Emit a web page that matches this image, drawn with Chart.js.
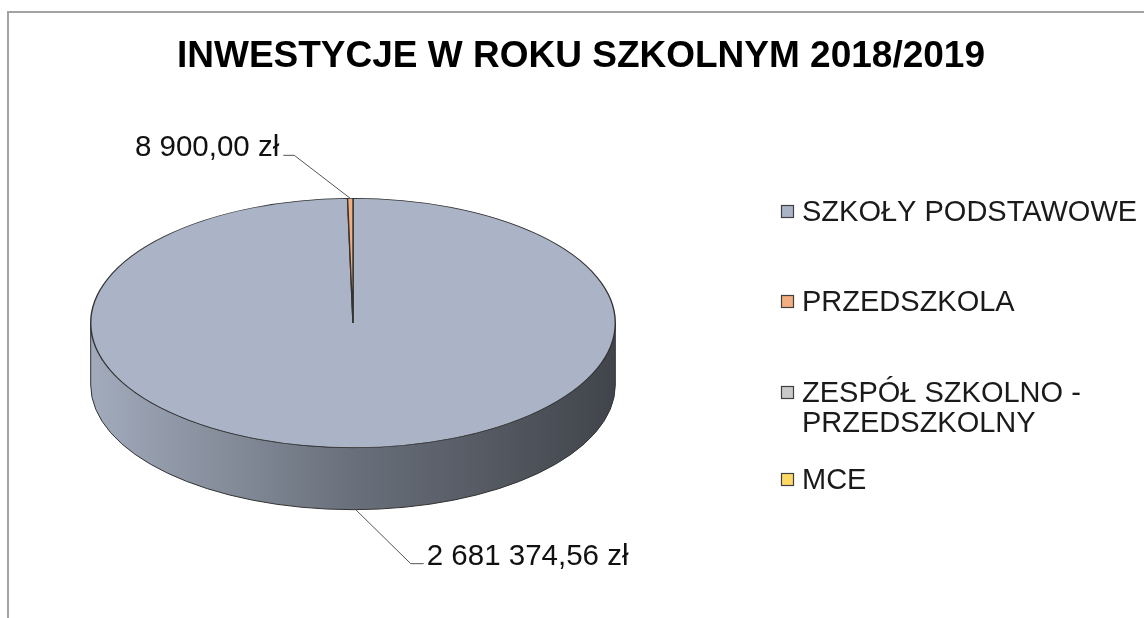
<!DOCTYPE html>
<html>
<head>
<meta charset="utf-8">
<script src="https://cdn.jsdelivr.net/npm/chart.js@4.4.1/dist/chart.umd.min.js"></script>
<style>
html,body{margin:0;padding:0;background:#fff;}
#wrap{position:relative;width:1144px;height:618px;}
canvas{display:block;}
</style>
</head>
<body>
<div id="wrap"><canvas id="c" width="1144" height="618"></canvas></div>
<script>
// ---- data ----
const categories = ['SZKOŁY PODSTAWOWE', 'PRZEDSZKOLA', 'ZESPÓŁ SZKOLNO - PRZEDSZKOLNY', 'MCE'];
const values = [2681374.56, 8900.00, 0, 0];
const sliceColors = ['#aab4c6', '#f2ad80', '#c9c9c9', '#ffd966'];
const titleText = 'INWESTYCJE W ROKU SZKOLNYM 2018/2019';
const currency = 'zł';

// ---- presentation constants ----
const FONT = '"Liberation Sans", Arial, sans-serif';
const PIE_CY = 323;      // screen centre of top face
const SQUASH = 125 / 263; // vertical squash of the top face
const DEPTH = 62;        // thickness of the 3D side
const EDGE = '#333333';

function fmt(v) {
  const parts = v.toFixed(2).split('.');
  const intPart = parts[0].replace(/\B(?=(\d{3})+(?!\d))/g, ' ');
  return intPart + ',' + parts[1] + ' ' + currency;
}
function hexToRgb(h) {
  const n = parseInt(h.slice(1), 16);
  return [(n >> 16) & 255, (n >> 8) & 255, n & 255];
}
function shade(h, f) {
  const c = hexToRgb(h).map(v => Math.round(v * f));
  return 'rgb(' + c.join(',') + ')';
}

// maps arc-space point to screen
function toScreen(arc, ax, ay) {
  return { x: ax, y: PIE_CY + (ay - arc.y) * SQUASH };
}

const pie3d = {
  id: 'pie3d',
  beforeDatasetsDraw(chart) {
    const ctx = chart.ctx;
    const meta = chart.getDatasetMeta(0);
    const ds = chart.data.datasets[0];
    // draw side walls of the visible (front) part of each slice
    meta.data.forEach((arc, i) => {
      const p = arc.getProps(['x', 'y', 'startAngle', 'endAngle', 'outerRadius'], true);
      if (p.endAngle - p.startAngle <= 0) return;
      const R = p.outerRadius;
      const ry = R * SQUASH;
      const TWO = Math.PI * 2;
      const segs = [];
      for (let k = -1; k <= 1; k++) {
        const s = Math.max(p.startAngle + k * TWO, 0);
        const e = Math.min(p.endAngle + k * TWO, Math.PI);
        if (e > s) segs.push([s, e]);
      }
      segs.forEach(([s, e]) => {
        const cx = p.x;
        const g = ctx.createLinearGradient(cx - R, 0, cx + R, 0);
        const base = ds.backgroundColor[i];
        g.addColorStop(0, shade(base, 0.95));
        g.addColorStop(0.5, shade(base, 0.62));
        g.addColorStop(1, shade(base, 0.38));
        ctx.save();
        ctx.beginPath();
        ctx.ellipse(cx, PIE_CY + DEPTH, R, ry, 0, s, e, false);
        ctx.ellipse(cx, PIE_CY, R, ry, 0, e, s, true);
        ctx.closePath();
        ctx.fillStyle = g;
        ctx.fill();
        ctx.lineWidth = 1;
        ctx.strokeStyle = EDGE;
        ctx.stroke();
        ctx.restore();
      });
    });
    // squash the top face
    const a0 = meta.data[0];
    ctx.save();
    ctx.translate(0, PIE_CY);
    ctx.scale(1, SQUASH);
    ctx.translate(0, -a0.y);
  },
  afterDatasetsDraw(chart) {
    chart.ctx.restore();
  },
  afterDraw(chart) {
    const ctx = chart.ctx;
    const meta = chart.getDatasetMeta(0);
    ctx.save();
    // chart frame
    ctx.fillStyle = '#a3a3a3';
    ctx.fillRect(7, 11, 1137, 2);
    ctx.fillRect(7, 11, 2, 607);

    // title
    ctx.fillStyle = '#000';
    ctx.font = 'bold 37px ' + FONT;
    ctx.textAlign = 'center';
    ctx.textBaseline = 'alphabetic';
    ctx.fillText(titleText, 581, 67);

    // data labels with leader lines
    ctx.font = '29.5px ' + FONT;
    meta.data.forEach((arc, i) => {
      const v = chart.data.datasets[0].data[i];
      if (!v) return;
      const p = arc.getProps(['x', 'y', 'startAngle', 'endAngle', 'outerRadius'], true);
      const mid = (p.startAngle + p.endAngle) / 2;
      const R = p.outerRadius;
      const pt = toScreen(p, p.x + R * Math.cos(mid), p.y + R * Math.sin(mid));
      if (Math.sin(mid) > 0) pt.y += DEPTH;
      const left = Math.cos(mid) < 0;
      const dx = left ? -56 : 55;
      const dy = Math.sin(mid) < 0 ? -43 : 54;
      const elbow = { x: pt.x + dx, y: pt.y + dy };
      const end = { x: elbow.x + (left ? -11 : 13), y: elbow.y };
      ctx.strokeStyle = '#555';
      ctx.lineWidth = 1;
      ctx.beginPath();
      ctx.moveTo(pt.x, pt.y);
      ctx.lineTo(elbow.x, elbow.y);
      ctx.lineTo(end.x, end.y);
      ctx.stroke();
      ctx.fillStyle = '#111';
      ctx.textAlign = left ? 'right' : 'left';
      ctx.textBaseline = 'alphabetic';
      ctx.fillText(fmt(v), end.x + (left ? -4 : 3), elbow.y + 1);
    });

    // legend
    const legendY = [212, 302, 393, 480];
    const lineH = 30;
    ctx.font = '29px ' + FONT;
    ctx.textAlign = 'left';
    ctx.textBaseline = 'middle';
    chart.data.labels.forEach((lab, i) => {
      const y = legendY[i];
      ctx.fillStyle = chart.data.datasets[0].backgroundColor[i];
      ctx.fillRect(781.5, y - 6.5, 12, 12);
      ctx.strokeStyle = '#404040';
      ctx.lineWidth = 1.2;
      ctx.strokeRect(781.5, y - 6.5, 12, 12);
      const words = lab.split(' ');
      const lines = [];
      let cur = '';
      words.forEach(w => {
        const t = cur ? cur + ' ' + w : w;
        if (ctx.measureText(t).width > 345 && cur) { lines.push(cur); cur = w; }
        else cur = t;
      });
      lines.push(cur);
      ctx.fillStyle = '#1a1a1a';
      lines.forEach((ln, j) => ctx.fillText(ln, 802, y + 1 + j * lineH));
    });
    ctx.restore();
  }
};

new Chart(document.getElementById('c'), {
  type: 'pie',
  data: {
    labels: categories,
    datasets: [{
      data: values,
      backgroundColor: sliceColors,
      borderColor: EDGE,
      borderWidth: 1.4
    }]
  },
  options: {
    responsive: false,
    animation: false,
    events: [],
    layout: { padding: { left: 90, right: 528, top: 46, bottom: 46 } },
    plugins: {
      legend: { display: false },
      tooltip: { enabled: false },
      title: { display: false }
    }
  },
  plugins: [pie3d]
});
</script>
</body>
</html>
